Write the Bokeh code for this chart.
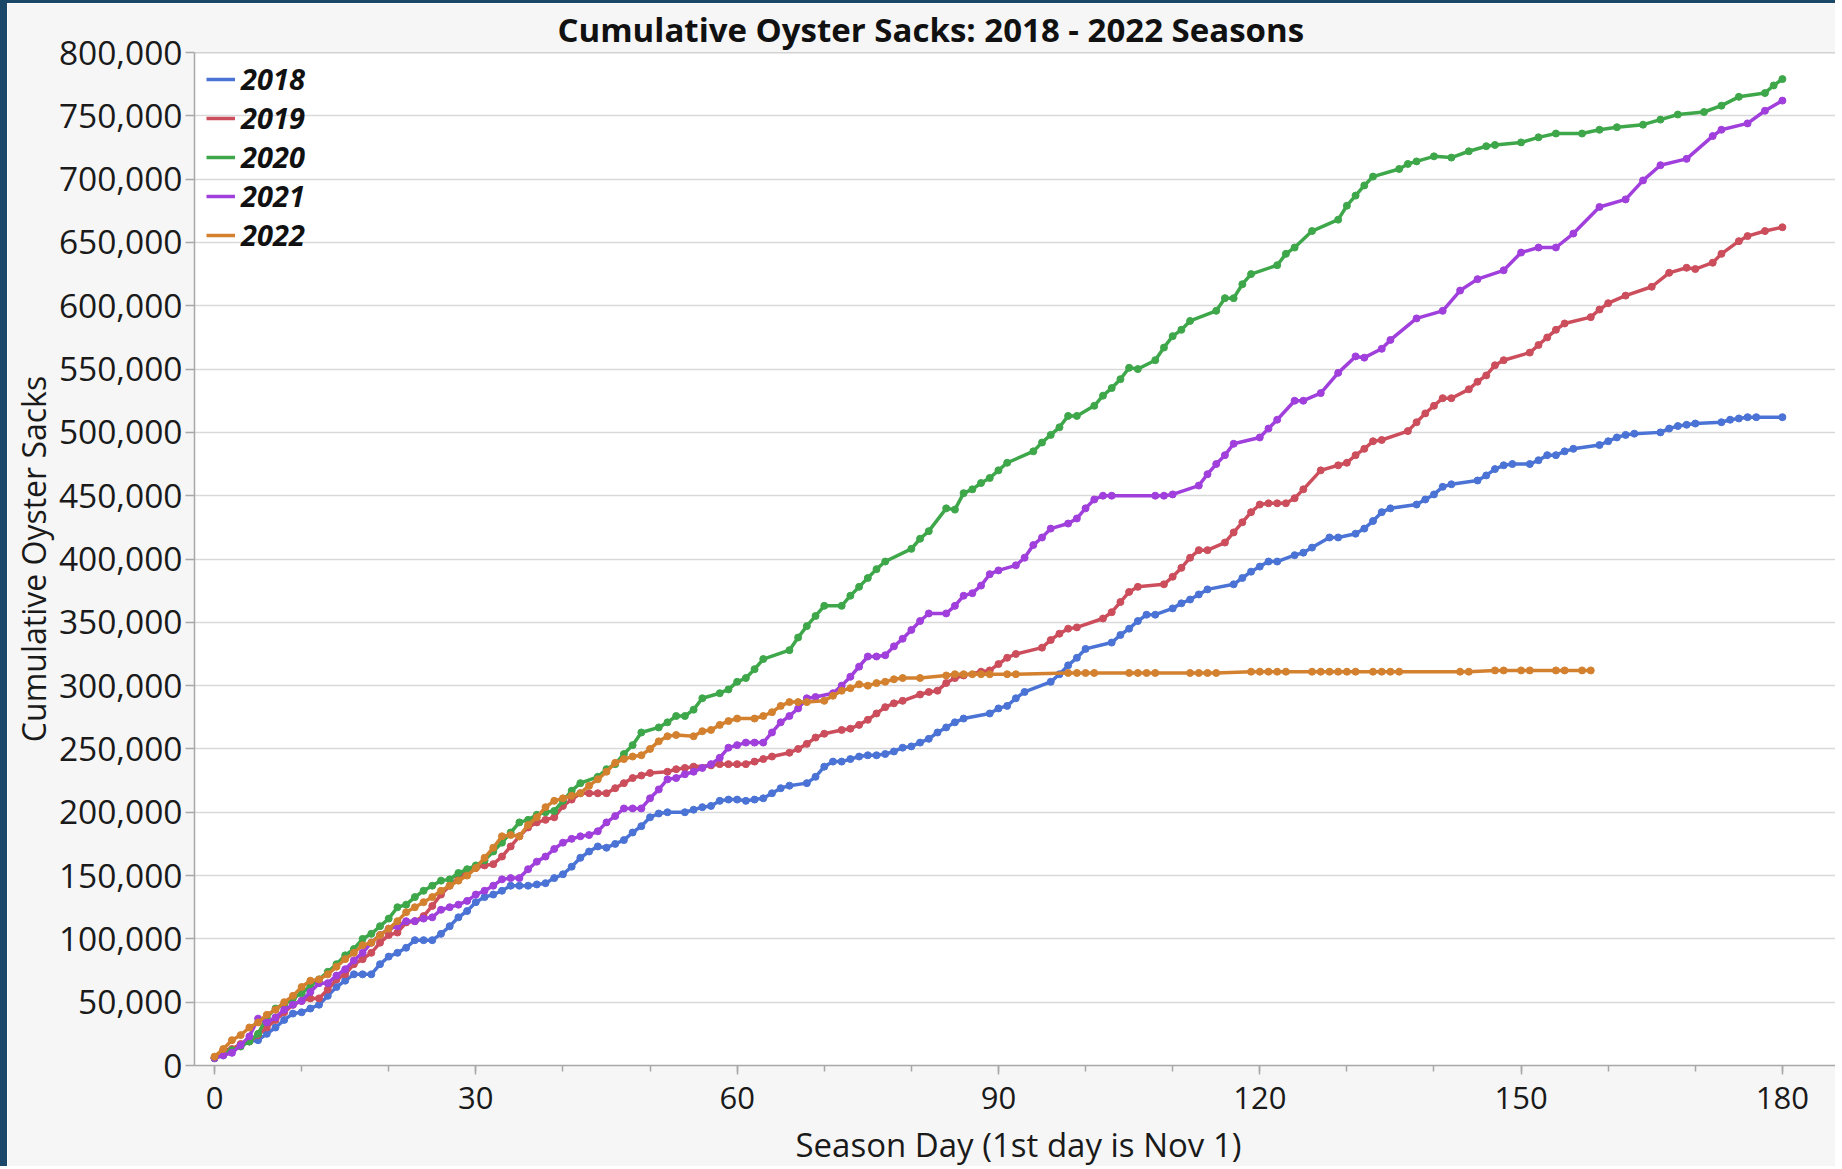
from bokeh.plotting import figure
from bokeh.models import SingleIntervalTicker, NumeralTickFormatter, Range1d, Span
from bokeh.embed import file_html
from bokeh.resources import INLINE

TITLE = "Cumulative Oyster Sacks: 2018 - 2022 Seasons"
X_LABEL = "Season Day (1st day is Nov 1)"
Y_LABEL = "Cumulative Oyster Sacks"
SEASONS = ["2018", "2019", "2020", "2021", "2022"]

# cumulative sacks, in thousands
days_2018 = [0, 1, 2, 3, 4, 5, 6, 7, 8, 9, 10, 11, 12, 13, 14, 15, 16, 17, 18, 19, 20, 21, 22, 23, 24, 25, 26, 27, 28, 29,
             30, 31, 32, 33, 34, 35, 36, 37, 38, 39, 40, 41, 42, 43, 44, 45, 46, 47, 48, 49, 50, 51, 52, 54, 55, 56, 57, 58, 59, 60,
             61, 62, 63, 64, 65, 66, 68, 69, 70, 71, 72, 73, 74, 75, 76, 77, 78, 79, 80, 81, 82, 83, 84, 85, 86, 89, 90,
             91, 92, 93, 96, 97, 98, 99, 100, 103, 104, 105, 106, 107, 108, 110, 111, 112, 113, 114, 117, 118, 119, 120,
             121, 122, 124, 125, 126, 128, 129, 131, 132, 133, 134, 135, 138, 139, 140, 141, 142, 145, 146, 147, 148, 149,
             151, 152, 153, 154, 155, 156, 159, 160, 161, 162, 163, 166, 167, 168, 169, 170, 173, 174, 175, 176, 177, 180]
sacks_2018_k = [5.6, 8, 12, 16, 19, 20, 25, 30, 36, 41, 42, 45, 48, 55, 62, 67, 72, 72, 72, 80, 86, 89, 93, 99, 99, 99, 104, 110, 117, 122,
                129, 133, 135, 138, 142, 142, 142, 143, 144, 148, 151, 157, 164, 169, 173, 172, 175, 178, 184, 189, 196, 199, 200, 200, 202, 204, 205, 209, 210, 210,
                209, 210, 211, 215, 219, 221, 223, 228, 236, 240, 240, 242, 244, 245, 245, 246, 248, 251, 252, 255, 258, 263, 267, 271, 274, 278, 282,
                284, 290, 295, 303, 309, 316, 322, 329, 334, 340, 345, 351, 356, 356, 361, 365, 368, 372, 376, 380, 385, 390, 394,
                398, 398, 403, 405, 409, 417, 417, 420, 424, 430, 437, 440, 443, 447, 451, 457, 459, 462, 466, 471, 474, 475,
                475, 478, 482, 482, 485, 487, 490, 493, 496, 498, 499, 500, 503, 505, 506, 507, 508, 510, 511, 512, 512, 512]

days_2019 = [0, 1, 2, 3, 4, 5, 6, 7, 8, 9, 10, 11, 12, 13, 14, 15, 16, 17, 18, 19, 20, 21, 22, 23, 24, 25, 26, 27, 28, 29,
             30, 31, 32, 33, 34, 35, 36, 37, 38, 39, 40, 41, 42, 43, 44, 45, 46, 47, 48, 49, 50, 52, 53, 54, 55, 57, 58, 59, 60,
             61, 62, 63, 64, 66, 67, 68, 69, 70, 72, 73, 74, 75, 76, 77, 78, 79, 81, 82, 83, 84, 85, 86, 88, 89, 90,
             91, 92, 95, 96, 97, 98, 99, 102, 103, 104, 105, 106, 109, 110, 111, 112, 113, 114, 116, 117, 118, 119, 120,
             121, 122, 123, 124, 125, 127, 129, 130, 131, 132, 133, 134, 137, 138, 139, 140, 141, 142, 144, 145, 146, 147, 148,
             151, 152, 153, 154, 155, 158, 159, 160, 162, 165, 167, 169, 170, 172, 173, 175, 176, 178, 180]
sacks_2019_k = [6, 12, 13, 17, 19, 24, 30, 36, 42, 48, 51, 53, 53, 60, 68, 72, 80, 84, 89, 97, 103, 105, 113, 114, 118, 126, 135, 142, 148, 154,
                156, 158, 159, 165, 173, 181, 188, 192, 194, 196, 205, 210, 215, 215, 215, 215, 219, 223, 227, 229, 231, 232, 234, 235, 236, 237, 238, 238, 238,
                238, 240, 242, 244, 247, 250, 254, 259, 262, 265, 266, 269, 273, 278, 283, 286, 288, 293, 295, 296, 302, 306, 308, 311, 312, 317,
                322, 325, 330, 336, 341, 345, 346, 353, 358, 366, 374, 378, 380, 386, 393, 401, 407, 407, 413, 421, 429, 437, 443,
                444, 444, 444, 448, 455, 470, 474, 476, 482, 487, 493, 494, 501, 508, 515, 521, 527, 527, 534, 540, 545, 553, 557,
                563, 569, 575, 581, 586, 591, 597, 602, 608, 615, 626, 630, 629, 634, 641, 651, 655, 659, 662]

days_2020 = [0, 1, 2, 3, 4, 5, 6, 7, 8, 9, 10, 11, 12, 13, 14, 15, 16, 17, 18, 19, 20, 21, 22, 23, 24, 25, 26, 27, 28, 29,
             30, 31, 32, 33, 34, 35, 36, 37, 38, 39, 40, 41, 42, 44, 45, 46, 47, 48, 49, 51, 52, 53, 54, 55, 56, 58, 59, 60,
             61, 62, 63, 66, 67, 68, 69, 70, 72, 73, 74, 75, 76, 77, 80, 81, 82, 84, 85, 86, 87, 88, 89, 90,
             91, 94, 95, 96, 97, 98, 99, 101, 102, 103, 104, 105, 106, 108, 109, 110, 111, 112, 115, 116, 117, 118, 119,
             122, 123, 124, 126, 129, 130, 131, 132, 133, 136, 137, 138, 140, 142, 144, 146, 147, 150, 152, 154, 157, 159,
             161, 164, 166, 168, 171, 173, 175, 178, 179, 180]
sacks_2020_k = [6, 10, 12, 15, 19, 25, 38, 45, 48, 53, 57, 63, 68, 74, 80, 87, 92, 100, 104, 110, 116, 125, 127, 133, 138, 142, 146, 147, 152, 155,
                158, 162, 169, 176, 184, 192, 194, 198, 200, 201, 209, 217, 223, 228, 234, 238, 246, 253, 263, 267, 271, 276, 276, 281, 290, 294, 297, 303,
                306, 313, 321, 328, 338, 347, 355, 363, 363, 371, 378, 385, 392, 398, 408, 416, 422, 440, 439, 452, 455, 460, 464, 470,
                476, 485, 492, 498, 504, 513, 513, 521, 529, 535, 542, 551, 550, 557, 567, 576, 581, 588, 596, 606, 606, 617, 625,
                632, 641, 646, 659, 668, 679, 687, 695, 702, 708, 712, 714, 718, 717, 722, 726, 727, 729, 733, 736, 736, 739,
                741, 743, 747, 751, 753, 758, 765, 768, 774, 779]

days_2021 = [0, 1, 2, 3, 4, 5, 6, 7, 8, 9, 10, 11, 12, 13, 14, 15, 16, 17, 18, 19, 20, 21, 22, 23, 24, 25, 26, 27, 28, 29,
             30, 31, 32, 33, 34, 35, 36, 37, 38, 39, 40, 41, 42, 43, 44, 45, 46, 47, 48, 49, 50, 51, 52, 53, 54, 55, 56, 57, 58, 59,
             60, 61, 62, 63, 64, 65, 66, 67, 68, 69, 71, 72, 73, 74, 75, 76, 77, 78, 79, 80, 81, 82, 84, 85, 86, 87, 88, 89, 90,
             92, 93, 94, 95, 96, 98, 99, 100, 101, 102, 103, 108, 109, 110, 113, 114, 115, 116, 117, 120, 121, 122, 124, 125,
             127, 129, 131, 132, 134, 135, 138, 141, 143, 145, 148, 150, 152, 154, 156, 159, 162, 164, 166, 169, 172, 173,
             176, 178, 180]
sacks_2021_k = [6, 8, 10, 16, 23, 37, 34, 38, 44, 48, 51, 58, 65, 65, 71, 76, 83, 89, 97, 103, 108, 110, 114, 114, 116, 117, 123, 125, 127, 130,
                135, 138, 142, 147, 148, 148, 155, 161, 165, 171, 176, 179, 181, 182, 185, 192, 197, 203, 203, 203, 211, 218, 226, 227, 230, 232, 235, 238, 243, 251,
                253, 255, 255, 255, 263, 271, 276, 282, 290, 291, 294, 300, 307, 315, 323, 323, 324, 331, 337, 344, 351, 357, 357, 363, 371, 373, 379, 388, 391,
                395, 401, 411, 417, 424, 428, 432, 440, 447, 450, 450, 450, 450, 451, 458, 467, 475, 482, 491, 496, 503, 510, 525, 525,
                531, 547, 560, 559, 566, 573, 590, 596, 612, 621, 628, 642, 646, 646, 657, 678, 684, 699, 711, 716, 734, 739,
                744, 754, 762]

days_2022 = [0, 1, 2, 3, 4, 5, 6, 7, 8, 9, 10, 11, 12, 13, 14, 15, 16, 17, 18, 19, 20, 21, 22, 23, 24, 25, 26, 27, 28, 29,
             30, 31, 32, 33, 34, 35, 36, 37, 38, 39, 40, 41, 42, 43, 44, 45, 46, 47, 48, 49, 50, 51, 52, 53, 55, 56, 57, 58, 59, 60,
             62, 63, 64, 65, 66, 67, 68, 70, 71, 72, 73, 74, 75, 76, 77, 78, 79, 81, 84, 85, 86, 87, 88, 89, 91, 92,
             98, 99, 100, 101, 105, 106, 107, 108, 112, 113, 114, 115, 119, 120, 121, 122, 123, 126, 127, 128, 129, 130, 131,
             133, 134, 135, 136, 143, 144, 147, 148, 150, 151, 154, 155, 157, 158]
sacks_2022_k = [7, 13, 20, 24, 30, 34, 40, 44, 50, 55, 62, 67, 68, 72, 78, 84, 89, 95, 97, 103, 108, 114, 121, 125, 129, 133, 138, 142, 146, 150,
                156, 164, 172, 181, 182, 181, 190, 196, 204, 209, 211, 213, 215, 221, 226, 232, 239, 242, 244, 245, 250, 256, 260, 261, 260, 264, 265, 269, 272, 274,
                274, 276, 279, 284, 287, 287, 287, 288, 292, 296, 298, 301, 300, 302, 303, 305, 306, 306, 308, 309, 309, 309, 309, 309, 309, 309,
                310, 310, 310, 310, 310, 310, 310, 310, 310, 310, 310, 310, 311, 311, 311, 311, 311, 311, 311, 311, 311, 311, 311,
                311, 311, 311, 311, 311, 311, 312, 312, 312, 312, 312, 312, 312, 312]

COLORS = ["#4a73d5", "#cc4d5b", "#3da74a", "#a03fdc", "#d3812f"]
FONT = "Open Sans"
DARK = "#1b4868"
AXIS_GREY = "#a8a8a8"

BORDER_L, BORDER_T = 7, 3
W, H = 1842 - BORDER_L, 1169 - BORDER_T

series = [
    (days_2018, sacks_2018_k),
    (days_2019, sacks_2019_k),
    (days_2020, sacks_2020_k),
    (days_2021, sacks_2021_k),
    (days_2022, sacks_2022_k),
]

p = figure(
    width=W, height=H,
    output_backend="svg", toolbar_location=None,
    x_range=Range1d(-2.3, 186.9), y_range=Range1d(0, 800000),
    min_border_left=187, min_border_right=0, min_border_top=49, min_border_bottom=101,
    title=TITLE,
)
# the dark frame of the screenshot, on the left and the top
p.styles = {
    "border-left": f"{BORDER_L}px solid {DARK}",
    "border-top": f"{BORDER_T}px solid {DARK}",
}

p.background_fill_color = "white"
p.border_fill_color = "#f6f6f6"
p.outline_line_color = None

p.title.text_font = FONT
p.title.text_font_size = "33px"
p.title.text_font_style = "bold"
p.title.text_color = "#111111"
p.title.align = "left"
p.title.offset = 363
p.title.standoff = 2

p.xgrid.visible = False
p.ygrid.grid_line_color = "#d9d9d9"
p.ygrid.grid_line_width = 1.5

# top edge of the frame
p.add_layout(Span(location=800000, dimension="width", line_color=AXIS_GREY, line_width=1.5))

for ax in (p.xaxis[0], p.yaxis[0]):
    ax.axis_line_color = AXIS_GREY
    ax.axis_line_width = 1.5
    ax.major_tick_line_color = AXIS_GREY
    ax.major_tick_line_width = 1.5
    ax.minor_tick_line_color = AXIS_GREY
    ax.minor_tick_line_width = 1.5
    ax.major_tick_in = 0
    ax.minor_tick_in = 0
    ax.major_label_text_font = FONT
    ax.major_label_text_color = "#1a1a1a"
    ax.axis_label_text_font = FONT
    ax.axis_label_text_font_style = "normal"
    ax.axis_label_text_color = "#1a1a1a"

p.xaxis.ticker = SingleIntervalTicker(interval=30, num_minor_ticks=3)
p.xaxis.major_tick_out = 9
p.xaxis.minor_tick_out = 6
p.xaxis.major_label_text_font_size = "31px"
p.xaxis.major_label_standoff = 12
p.xaxis.axis_label = X_LABEL
p.xaxis.axis_label_text_font_size = "33px"
p.xaxis.axis_label_standoff = 10

p.yaxis.ticker = SingleIntervalTicker(interval=50000, num_minor_ticks=0)
p.yaxis.formatter = NumeralTickFormatter(format="0,0")
p.yaxis.major_tick_out = 9
p.yaxis.minor_tick_line_color = None
p.yaxis.major_label_text_font_size = "33.5px"
p.yaxis.major_label_standoff = 3
p.yaxis.axis_label = Y_LABEL
p.yaxis.axis_label_text_font_size = "32px"
p.yaxis.axis_label_standoff = 1

for label, color, (xs, ks) in zip(SEASONS, COLORS, series):
    ys = [k * 1000 for k in ks]
    p.line(xs, ys, line_color=color, line_width=3.5, legend_label=label)
    p.scatter(xs, ys, size=7, marker="circle", fill_color=color, line_color=color)

p.legend.location = (7, 806)
p.legend.margin = 0
p.legend.padding = 5
p.legend.spacing = 0
p.legend.glyph_width = 29
p.legend.glyph_height = 30
p.legend.label_height = 30
p.legend.label_standoff = 6
p.legend.label_text_font = FONT
p.legend.label_text_font_size = "29px"
p.legend.label_text_font_style = "bold italic"
p.legend.label_text_color = "#111111"
p.legend.background_fill_alpha = 0
p.legend.border_line_alpha = 0

open("out.html", "w").write(file_html(p, INLINE))
